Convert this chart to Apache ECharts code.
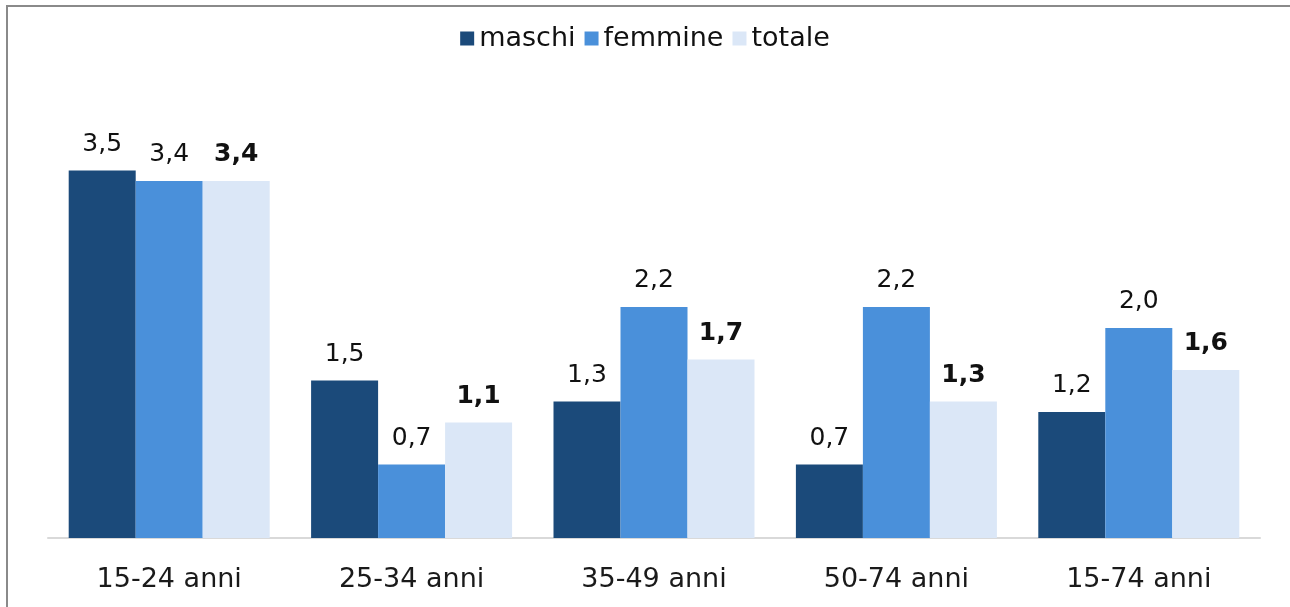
<!DOCTYPE html>
<html>
<head>
<meta charset="utf-8">
<script src="https://cdn.jsdelivr.net/npm/echarts@6/dist/echarts.min.js"></script>
<style>
html,body{margin:0;padding:0;background:#fff;overflow:hidden;}
#c{width:1290px;height:607px;}
</style>
</head>
<body>
<div id="c"></div>
<script>
const categories = ['15-24 anni', '25-34 anni', '35-49 anni', '50-74 anni', '15-74 anni'];
const maschi = [3.5, 1.5, 1.3, 0.7, 1.2];
const femmine = [3.4, 0.7, 2.2, 2.2, 2.0];
const totale = [3.4, 1.1, 1.7, 1.3, 1.6];

const chart = echarts.init(document.getElementById('c'));
const fmt = p => p.value.toFixed(1).replace('.', ',');
const lbl = (bold) => ({
  show: true, position: 'top', distance: 14, formatter: fmt,
  fontFamily: 'DejaVu Sans', fontSize: 25, color: '#111',
  fontWeight: bold ? 'bold' : 'normal'
});
chart.setOption({
  animation: false,
  graphic: [{
    type: 'polyline', shape: {points: [[7, 700], [7, 6], [1400, 6]]},
    style: {fill: null, stroke: '#8a8a8a', lineWidth: 2}, silent: true
  }],
  legend: {
    top: 20, left: 'center', itemWidth: 14, itemHeight: 14, itemGap: 9,
    icon: 'rect',
    textStyle: {fontFamily: 'DejaVu Sans', fontSize: 27, color: '#111'},
    data: ['maschi', 'femmine', 'totale']
  },
  grid: {left: 48, right: 30, top: 118, bottom: 69},
  xAxis: {
    type: 'category', data: categories,
    axisLine: {lineStyle: {color: '#d9d9d9', width: 2}},
    axisTick: {show: false},
    axisLabel: {fontFamily: 'DejaVu Sans', fontSize: 27, color: '#1a1a1a', margin: 28}
  },
  yAxis: {type: 'value', min: 0, max: 4, show: false, splitLine: {show: false}},
  series: [
    {name: 'maschi', type: 'bar', data: maschi, barWidth: 67, barGap: '0%', itemStyle: {color: '#1B4A7A'}, label: lbl(false)},
    {name: 'femmine', type: 'bar', data: femmine, barWidth: 67, barGap: '0%', itemStyle: {color: '#4A90DA'}, label: lbl(false)},
    {name: 'totale', type: 'bar', data: totale, barWidth: 67, barGap: '0%', itemStyle: {color: '#DBE7F7'}, label: lbl(true)}
  ]
});
</script>
</body>
</html>
